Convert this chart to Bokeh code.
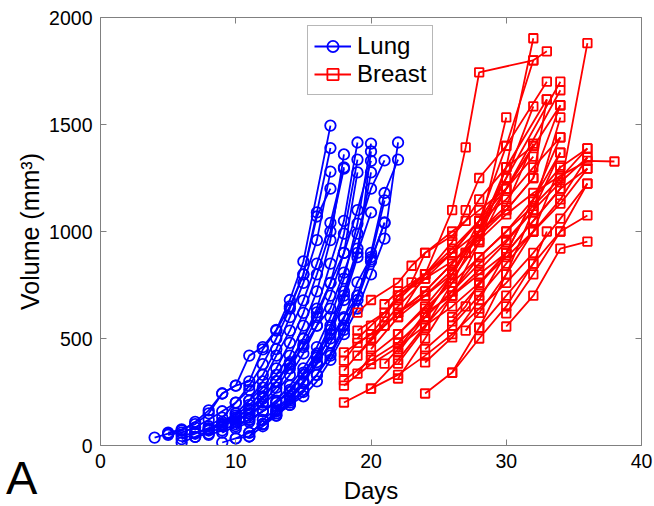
from bokeh.plotting import figure
from bokeh.models import Legend, LegendItem, LinearAxis, Range1d, FixedTicker, Div
from bokeh.layouts import column
from bokeh.embed import file_html
from bokeh.resources import INLINE

# ---- data: Lung tumours (day, volume mm^3) ----
lung_days = [
    [4, 5, 6, 7, 8, 9, 10, 11, 12, 13, 14, 15, 17],
    [5, 6, 7, 8, 9, 10, 11, 12, 13, 14, 15, 16, 17],
    [5, 6, 7, 8, 9, 10, 11, 12, 13, 14, 15, 16, 17],
    [6, 7, 8, 9, 10, 11, 12, 13, 14, 15, 16, 17, 18],
    [6, 7, 8, 9, 10, 11, 12, 13, 14, 15, 16, 17, 18],
    [6, 7, 8, 9, 10, 11, 12, 13, 14, 15, 16, 17, 18, 19],
    [7, 8, 9, 10, 11, 12, 13, 14, 15, 16, 17, 18, 19],
    [7, 8, 9, 10, 11, 12, 13, 14, 15, 16, 17, 18, 19],
    [8, 9, 10, 11, 12, 13, 14, 15, 16, 17, 18, 19, 20],
    [9, 10, 11, 12, 13, 14, 15, 16, 17, 18, 19, 20],
    [9, 10, 11, 12, 13, 14, 15, 16, 17, 18, 19, 20],
    [10, 11, 12, 13, 14, 15, 16, 17, 18, 19, 20],
    [10, 11, 12, 13, 14, 15, 16, 17, 18, 19, 20, 21],
    [11, 12, 13, 14, 15, 16, 17, 18, 19, 20, 21],
    [11, 12, 13, 14, 15, 16, 17, 18, 19, 20, 21, 22],
    [12, 13, 14, 15, 16, 17, 18, 19, 20, 21, 22],
    [8, 9, 10, 11, 12, 13, 14, 15, 16, 17],
    [9, 10, 11, 12, 13, 14, 15, 16, 17, 18],
    [10, 11, 12, 13, 14, 15, 16, 17, 18, 19, 20, 21],
    [11, 12, 13, 14, 15, 16, 17, 18, 19, 20],
    [13, 14, 15, 16, 17, 18, 19, 20, 21],
]
lung_vols = [
    [37, 55, 70, 110, 164, 243, 280, 420, 460, 540, 680, 860, 1495],
    [60, 75, 100, 150, 243, 280, 300, 449, 537, 650, 800, 1089, 1390],
    [50, 60, 85, 120, 160, 200, 260, 330, 450, 600, 760, 960, 1280],
    [14, 40, 70, 100, 140, 190, 250, 330, 420, 560, 720, 960, 1360],
    [30, 55, 80, 110, 150, 210, 270, 360, 480, 620, 800, 1000, 1294],
    [45, 60, 75, 95, 130, 170, 230, 300, 390, 500, 640, 850, 1050, 1416],
    [60, 80, 100, 130, 170, 220, 300, 380, 500, 622, 760, 990, 1336],
    [40, 55, 90, 120, 150, 190, 250, 330, 430, 560, 700, 900, 1276],
    [50, 70, 100, 120, 160, 210, 280, 360, 460, 600, 780, 1037, 1411],
    [14, 33, 60, 100, 150, 210, 290, 390, 520, 680, 880, 1374],
    [60, 90, 120, 160, 200, 260, 340, 430, 560, 720, 920, 1276],
    [80, 110, 160, 200, 250, 330, 420, 540, 700, 900, 1089],
    [33, 42, 120, 170, 230, 300, 380, 480, 593, 762, 880, 1145],
    [42, 90, 140, 190, 250, 330, 420, 540, 680, 860, 1042],
    [60, 100, 140, 200, 260, 330, 430, 560, 700, 900, 1180, 1336],
    [100, 160, 190, 230, 300, 400, 520, 640, 800, 967, 1416],
    [90, 130, 200, 280, 380, 500, 640, 800, 1070, 1200],
    [100, 150, 210, 300, 420, 537, 678, 850, 1040, 1300],
    [110, 150, 220, 300, 380, 460, 560, 640, 808, 990, 1200, 1332],
    [130, 200, 270, 360, 470, 600, 760, 900, 1100, 1330],
    [160, 220, 300, 411, 500, 600, 700, 870, 1040],
]

# ---- data: Breast tumours (day, volume mm^3) ----
breast_days = [
    [18, 20, 22, 24, 26, 28, 30, 32, 34, 36],
    [18, 20, 22, 24, 26, 28, 30, 32, 34, 36],
    [18, 20, 22, 24, 26, 28, 30, 32, 34, 36],
    [18, 19, 21, 22, 24, 26, 27, 28, 30, 32],
    [18, 20, 21, 22, 24, 26, 27, 28, 30, 32, 33],
    [19, 20, 22, 24, 26, 28, 30, 32, 34, 36],
    [19, 21, 22, 24, 26, 28, 30, 32, 34, 36, 38],
    [19, 20, 22, 23, 24, 26, 27, 28, 30, 32],
    [20, 22, 24, 26, 27, 28, 32],
    [22, 24, 26, 28, 30, 32],
    [22, 24, 26, 28, 30, 33],
    [22, 24, 26, 28, 30, 33],
    [22, 24, 26, 28, 30, 34],
    [22, 24, 26, 27, 28, 30, 34],
    [21, 22, 24, 26, 28, 30, 34],
    [24, 26, 28, 30, 32, 34],
    [24, 26, 28, 30, 32, 34],
    [24, 26, 28, 30, 32, 34, 36],
    [26, 27, 28, 30, 32, 34],
    [27, 28, 30, 32, 34],
    [28, 30, 32, 34, 36],
    [30, 32, 34, 36],
    [30, 32, 34, 36],
    [20, 22, 24, 26, 28, 30, 32, 34],
    [18, 20, 22, 24, 26, 28, 30, 32],
    [19, 21, 22, 24, 26, 28, 30],
    [20, 22, 24, 26, 28, 30, 32, 34],
    [21, 22, 24, 26, 28, 30, 32, 34],
    [22, 24, 26, 28, 30, 32, 33],
    [23, 24, 26, 28, 30, 32],
    [26, 28, 30, 32, 33],
    [24, 26, 28, 30, 32, 34, 36],
    [22, 24, 26, 28, 30, 32, 34, 36],
    [19, 20, 22, 24, 26, 28, 30, 32],
    [26, 28, 30, 32, 34, 36],
]
breast_vols = [
    [201, 266, 330, 420, 520, 640, 760, 900, 1060, 1224],
    [280, 380, 460, 560, 650, 760, 880, 1000, 1130, 1294],
    [304, 400, 480, 600, 720, 850, 960, 1100, 1230, 1346],
    [397, 480, 560, 620, 700, 800, 900, 1000, 1120, 1411],
    [435, 520, 600, 700, 800, 950, 1100, 1250, 1400, 1800, 1842],
    [336, 420, 520, 640, 760, 880, 1000, 1150, 1300, 1388],
    [537, 620, 700, 780, 860, 960, 1080, 1180, 1260, 1330, 1327],
    [621, 680, 760, 840, 900, 980, 1050, 1150, 1300, 1400],
    [450, 600, 800, 1100, 1393, 1744, 1800],
    [313, 500, 700, 950, 1300, 1903],
    [383, 550, 760, 1000, 1300, 1617],
    [435, 600, 800, 1050, 1400, 1700],
    [520, 650, 800, 1000, 1250, 1700],
    [600, 700, 820, 900, 1000, 1200, 1660],
    [383, 450, 620, 780, 950, 1200, 1590],
    [243, 341, 550, 800, 1100, 1533],
    [388, 505, 680, 900, 1150, 1440],
    [620, 700, 800, 900, 1050, 1200, 1880],
    [580, 650, 760, 900, 1150, 1369],
    [537, 620, 800, 1000, 1308],
    [551, 700, 850, 1000, 1075],
    [556, 700, 920, 953],
    [617, 800, 1000, 1224],
    [266, 400, 560, 700, 820, 950, 1100, 1369],
    [350, 500, 650, 780, 900, 1050, 1250, 1585],
    [420, 560, 620, 720, 850, 1000, 1533],
    [500, 620, 720, 850, 980, 1100, 1250, 1590],
    [660, 720, 800, 900, 1050, 1150, 1300, 1440],
    [700, 800, 900, 1000, 1100, 1250, 1617],
    [762, 900, 1000, 1100, 1200, 1400],
    [340, 500, 650, 850, 1000],
    [450, 560, 700, 850, 1000, 1150, 1346],
    [480, 600, 720, 880, 1000, 1120, 1250, 1388],
    [500, 560, 680, 800, 920, 1050, 1200, 1350],
    [600, 750, 900, 1050, 1200, 1294],
]

x_ticks = [0, 10, 20, 30, 40]
y_ticks = [0, 500, 1000, 1500, 2000]

FONT = "Liberation Sans"
AXIS_COLOR = "#808080"

p = figure(width=654, height=506, output_backend="svg", toolbar_location=None,
           x_range=Range1d(0, 40), y_range=Range1d(0, 2000),
           min_border_left=100, min_border_right=13, min_border_top=17, min_border_bottom=61)
p.grid.visible = False
p.outline_line_color = None
p.background_fill_color = "white"
p.border_fill_color = "white"

lung_line = lung_mark = None
for d, v in zip(lung_days, lung_vols):
    l = p.line(d, v, line_color="#0000ff", line_width=1.8)
    m = p.scatter(d, v, marker="circle", size=10.5, line_color="#0000ff",
                  line_width=1.8, fill_alpha=0)
    if lung_line is None:
        lung_line, lung_mark = l, m

breast_line = breast_mark = None
for d, v in zip(breast_days, breast_vols):
    l = p.line(d, v, line_color="#ff0000", line_width=1.8)
    m = p.scatter(d, v, marker="square", size=8.5, line_color="#ff0000",
                  line_width=1.8, fill_alpha=0)
    if breast_line is None:
        breast_line, breast_mark = l, m


def style(ax, ticks, labels=True):
    ax.ticker = FixedTicker(ticks=ticks)
    ax.axis_line_color = AXIS_COLOR
    ax.major_tick_line_color = AXIS_COLOR
    ax.major_tick_in = 6
    ax.major_tick_out = 0
    ax.minor_tick_line_color = None
    ax.major_label_text_font = FONT
    ax.major_label_text_font_size = "19.5px"
    ax.major_label_text_color = "black"
    if not labels:
        ax.major_label_overrides = {t: "" for t in ticks}
        ax.major_label_standoff = 0


style(p.xaxis[0], x_ticks)
style(p.yaxis[0], y_ticks)
p.xaxis.major_label_standoff = 8
p.yaxis.major_label_standoff = 8

p.xaxis.axis_label = "Days"
p.yaxis.axis_label = "Volume (mm³)"
p.xaxis.axis_label_text_font_size = "24px"
p.yaxis.axis_label_text_font_size = "25px"
for ax in [p.xaxis[0], p.yaxis[0]]:
    ax.axis_label_text_font = FONT
    ax.axis_label_text_font_style = "normal"
    ax.axis_label_text_color = "black"
p.xaxis.axis_label_standoff = 6
p.yaxis.axis_label_standoff = 2

top = LinearAxis()
right = LinearAxis()
p.add_layout(top, "above")
p.add_layout(right, "right")
style(top, x_ticks, labels=False)
style(right, y_ticks, labels=False)

legend = Legend(items=[
    LegendItem(label="Lung", renderers=[lung_line, lung_mark]),
    LegendItem(label="Breast", renderers=[breast_line, breast_mark]),
], location=(207, 350))
legend.label_text_font = FONT
legend.label_text_font_size = "24px"
legend.label_text_color = "black"
legend.glyph_width = 37
legend.glyph_height = 28
legend.label_height = 28
legend.label_standoff = 6
legend.spacing = 0
legend.padding = 6
legend.margin = 0
legend.border_line_color = "#707070"
legend.border_line_width = 1
legend.background_fill_alpha = 1
p.add_layout(legend)

# ---- panel letter (overlaid on the lower-left corner) ----
panel = Div(text="A", width=50, height=40, margin=(-48, 0, 0, 6),
            styles={"font-family": "Liberation Sans", "font-size": "47px",
                    "line-height": "40px", "color": "black"})

layout = column(p, panel, spacing=0)
open("out.html", "w").write(file_html(layout, INLINE))
